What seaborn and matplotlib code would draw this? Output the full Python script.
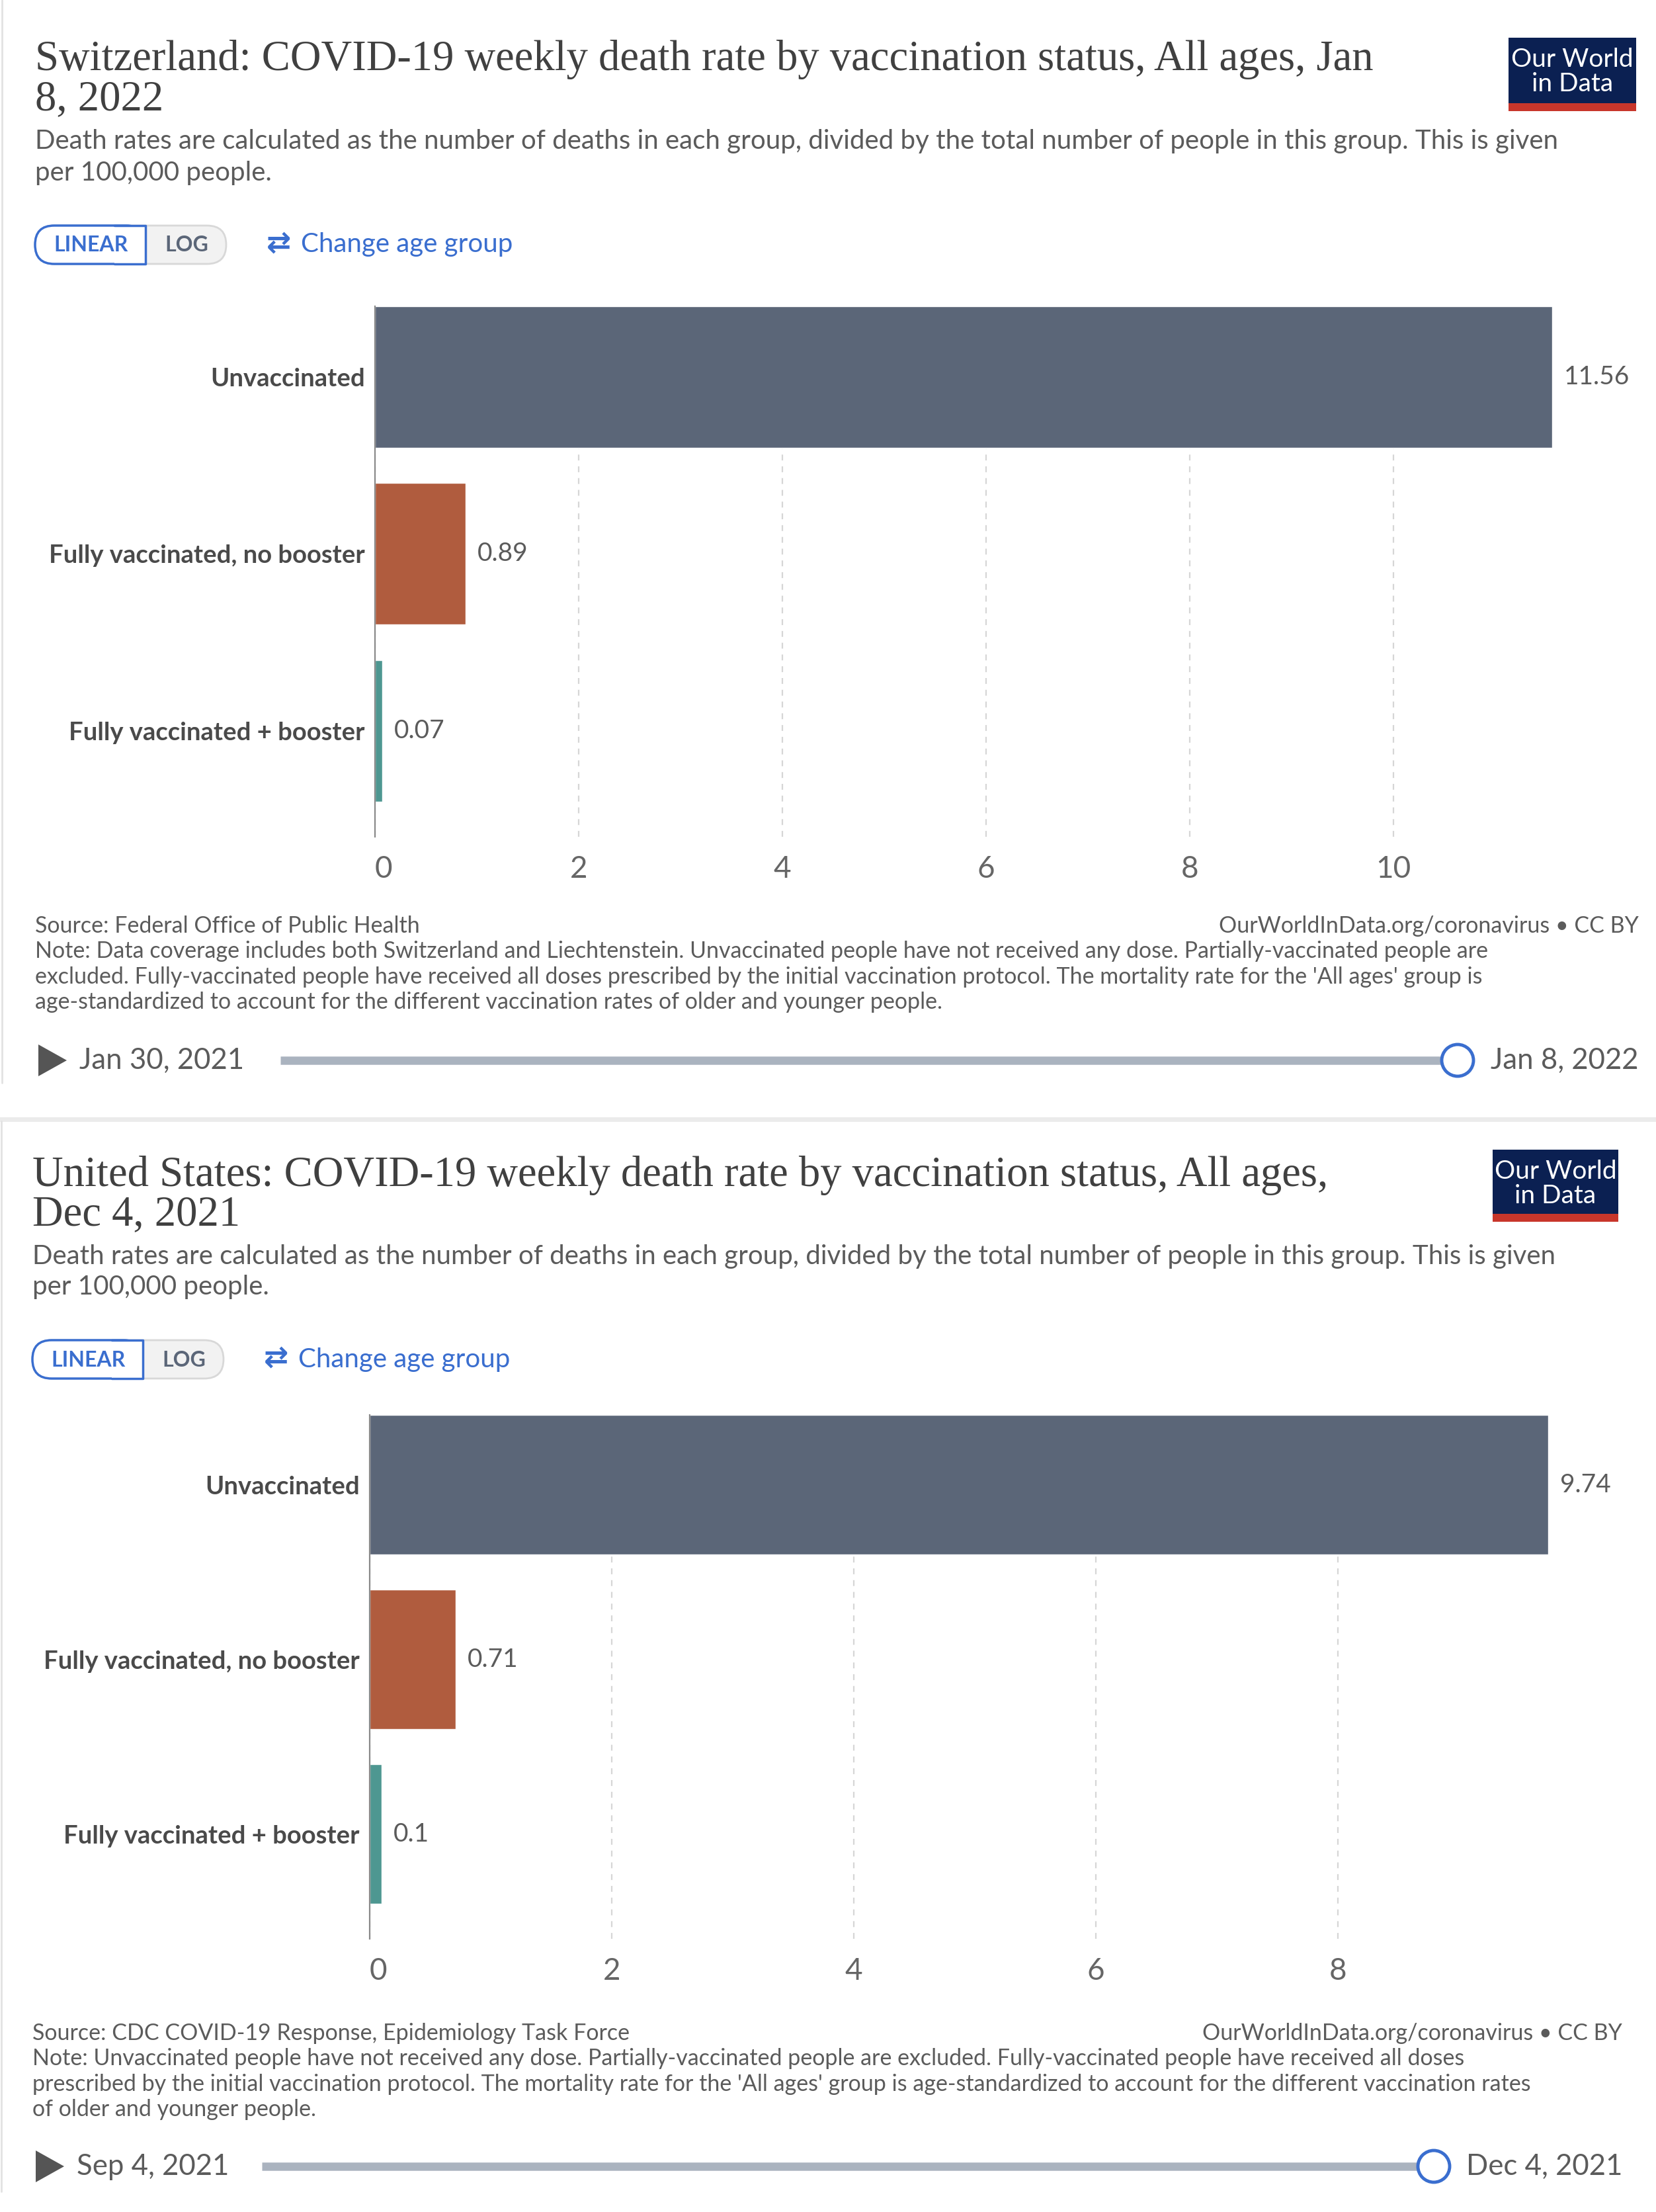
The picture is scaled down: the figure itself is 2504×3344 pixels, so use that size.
import pandas as pd
import matplotlib.pyplot as plt
import seaborn as sns
from matplotlib.patches import Rectangle, FancyBboxPatch, Polygon, Circle

W, H = 2504, 3344

sns.set_theme(style='white')
plt.rcParams['font.family'] = ['Lato', 'DejaVu Sans']

# data
categories = ['Unvaccinated', 'Fully vaccinated, no booster', 'Fully vaccinated + booster']
ch_rates = [11.56, 0.89, 0.07]
us_rates = [9.74, 0.71, 0.1]
bar_colors = ['#5b6678', '#b05c3e', '#4e9791']
ch_ticks = [0, 2, 4, 6, 8, 10]
us_ticks = [0, 2, 4, 6, 8]

ch_title = ['Switzerland: COVID-19 weekly death rate by vaccination status, All ages, Jan', '8, 2022']
us_title = ['United States: COVID-19 weekly death rate by vaccination status, All ages,', 'Dec 4, 2021']
subtitle = ['Death rates are calculated as the number of deaths in each group, divided by the total number of people in this group. This is given',
            'per 100,000 people.']
ch_source = 'Source: Federal Office of Public Health'
us_source = 'Source: CDC COVID-19 Response, Epidemiology Task Force'
ch_note = ['Note: Data coverage includes both Switzerland and Liechtenstein. Unvaccinated people have not received any dose. Partially-vaccinated people are',
           "excluded. Fully-vaccinated people have received all doses prescribed by the initial vaccination protocol. The mortality rate for the 'All ages' group is",
           'age-standardized to account for the different vaccination rates of older and younger people.']
us_note = ['Note: Unvaccinated people have not received any dose. Partially-vaccinated people are excluded. Fully-vaccinated people have received all doses',
           "prescribed by the initial vaccination protocol. The mortality rate for the 'All ages' group is age-standardized to account for the different vaccination rates",
           'of older and younger people.']
ch_dates = ['Jan 30, 2021', 'Jan 8, 2022']
us_dates = ['Sep 4, 2021', 'Dec 4, 2021']

TXT = '#5b5b5b'
BLUE = '#3a6ecf'

fig = plt.figure(figsize=(W / 100, H / 100), dpi=100)
bg = fig.add_axes([0, 0, 1, 1])
bg.set_xlim(0, W)
bg.set_ylim(H, 0)
bg.axis('off')


def header(x0, title, ty, sy, by, logo):
    for line, y in zip(title, ty):
        bg.text(x0, y, line, family='Liberation Serif', fontsize=46.5, color='#404040', va='center')
    for line, y in zip(subtitle, sy):
        bg.text(x0, y, line, fontsize=29, color=TXT, va='center')
    # linear / log toggle
    bg.add_patch(FancyBboxPatch((x0, by - 29), 289, 58, boxstyle='round,pad=0,rounding_size=29',
                                fc='#f2f2f2', ec='#d8d8d8', lw=2))
    bg.add_patch(FancyBboxPatch((x0, by - 29), 167, 58, boxstyle='round,pad=0,rounding_size=29',
                                fc='white', ec=BLUE, lw=2.5, zorder=3))
    bg.add_patch(Rectangle((x0 + 120, by - 29), 47, 58, fc='white', ec='none', zorder=3))
    bg.plot([x0 + 120, x0 + 167, x0 + 167, x0 + 120], [by - 29, by - 29, by + 29, by + 29],
            color=BLUE, lw=2.5, zorder=4)
    bg.text(x0 + 85, by + 1, 'LINEAR', fontsize=23, fontweight='bold', color=BLUE, ha='center', va='center', zorder=5)
    bg.text(x0 + 229, by + 1, 'LOG', fontsize=23, fontweight='bold', color='#5b6678', ha='center', va='center')
    bg.text(x0 + 350, by - 2, '\u21c4', fontsize=32, fontweight='bold', color=BLUE, va='center', family=['DejaVu Sans'])
    bg.text(x0 + 402, by, 'Change age group', fontsize=29, color=BLUE, va='center')
    # logo
    lx0, lx1, ly0, lred, ly1 = logo
    bg.add_patch(Rectangle((lx0, ly0), lx1 - lx0, lred - ly0, fc='#0b2052', ec='none'))
    bg.add_patch(Rectangle((lx0, lred), lx1 - lx0, ly1 - lred, fc='#c8362b', ec='none'))
    cx = (lx0 + lx1) / 2
    bg.text(cx, ly0 + 33, 'Our World', fontsize=28, color='white', ha='center', va='center')
    bg.text(cx, ly0 + 70, 'in Data', fontsize=28, color='white', ha='center', va='center')


def bars(rates, ticks, xmax, rect):
    x0, x1, y0, y1 = rect
    ax = fig.add_axes([x0 / W, 1 - y1 / H, (x1 - x0) / W, (y1 - y0) / H])
    df = pd.DataFrame({'status': categories, 'rate': rates})
    sns.barplot(data=df, x='rate', y='status', hue='status', palette=bar_colors, legend=False,
                width=0.8, saturation=1, ax=ax)
    ax.set_xlim(0, xmax)
    ax.set_ylim(2.6, -0.4)
    ax.set_xticks(ticks)
    ax.xaxis.grid(True, ls=(0, (4, 4)), color='#d6d6d6', lw=1.6)
    ax.set_axisbelow(True)
    for s in ['top', 'right', 'bottom']:
        ax.spines[s].set_visible(False)
    ax.spines['left'].set_color('#8a8a8a')
    ax.spines['left'].set_linewidth(1.6)
    ax.set_facecolor('none')
    ax.tick_params(axis='x', length=0, pad=20, labelsize=33, labelcolor='#666666')
    ax.tick_params(axis='y', length=0, pad=11, labelsize=27.5, labelcolor='#4a4a4a')
    for lab in ax.get_yticklabels():
        lab.set_fontweight('bold')
    # OWID left-aligns the zero label on the axis line
    ax.xaxis.get_major_ticks()[0].label1.set_horizontalalignment('left')
    ax.set_xlabel('')
    ax.set_ylabel('')
    for c in ax.containers:
        ax.bar_label(c, labels=[f'{v:g}' for v in c.datavalues], padding=13, fontsize=28, color=TXT)
    return ax


def footer(x0, xr, source, note, fy, dates, ty, track):
    bg.text(x0, fy[0], source, fontsize=24.5, color=TXT, va='center')
    bg.text(xr, fy[0], 'OurWorldInData.org/coronavirus \u2022 CC BY', fontsize=24.5, color=TXT, va='center', ha='right')
    for line, y in zip(note, fy[1:]):
        bg.text(x0, y, line, fontsize=24.5, color=TXT, va='center')
    bg.add_patch(Polygon([(x0 + 5, ty - 24), (x0 + 5, ty + 24), (x0 + 48, ty)], closed=True, fc='#555555', ec='none'))
    bg.text(x0 + 67, ty, dates[0], fontsize=31.5, color=TXT, va='center')
    t0, t1 = track
    bg.plot([t0, t1], [ty, ty], color='#aab3bf', lw=9, solid_capstyle='butt')
    bg.add_patch(Circle((t1, ty), 24, fc='white', ec=BLUE, lw=3.5, zorder=5))
    bg.text(xr, ty, dates[1], fontsize=31.5, color=TXT, va='center', ha='right')


# panel frames
bg.plot([3, 3], [0, 1637], color='#e2e2e2', lw=2)
bg.plot([0, W], [1692, 1692], color='#ebebeb', lw=5)
bg.plot([2, 2], [1695, 3313], color='#e2e2e2', lw=2)

header(53, ch_title, [90, 150], [214, 261], 370, (2281, 2474, 57, 156, 168))
bars(ch_rates, ch_ticks, 12, (567, 567 + 12 * 154, 463, 1265))
footer(53, 2478, ch_source, ch_note, [1400, 1438, 1477, 1515], ch_dates, 1603, (424, 2204))

header(49, us_title, [1777, 1836], [1899, 1946], 2055, (2257, 2447, 1738, 1835, 1847))
bars(us_rates, us_ticks, 10, (559, 559 + 10 * 183, 2139, 2931))
footer(49, 2453, us_source, us_note, [3074, 3112, 3151, 3189], us_dates, 3275, (396, 2168))

fig.savefig('out.png', dpi=100, facecolor='white')
